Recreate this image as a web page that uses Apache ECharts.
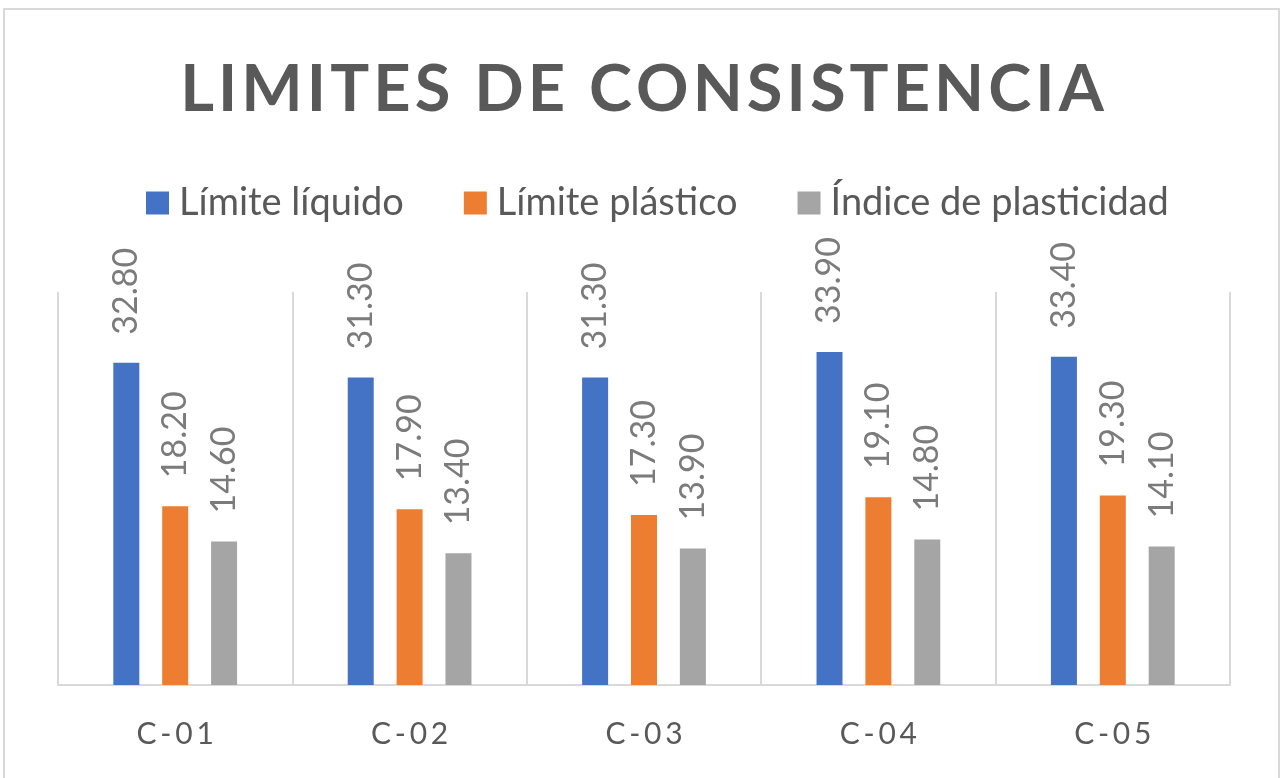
<!DOCTYPE html>
<html lang="es">
<head>
    <meta charset="UTF-8">
    <title>Limites de consistencia</title>
    <style>
        html, body { margin: 0; padding: 0; background: #fff; }
        #main { width: 1284px; height: 778px; }
    </style>
</head>
<body>
<div id="main"></div>
<script src="https://cdn.jsdelivr.net/npm/echarts@6/dist/echarts.min.js"></script>
<script>
// datos
var muestras = ['C-01', 'C-02', 'C-03', 'C-04', 'C-05'];
var limiteLiquido = [32.80, 31.30, 31.30, 33.90, 33.40];
var limitePlastico = [18.20, 17.90, 17.30, 19.10, 19.30];
var indicePlasticidad = [14.60, 13.40, 13.90, 14.80, 14.10];
var nombresSeries = ['Límite líquido', 'Límite plástico', 'Índice de plasticidad'];
var colores = ['#4472c4', '#ed7d31', '#a5a5a5'];

var fuente = 'Lato';

// espaciado entre letras (el canvas no tiene letter-spacing)
function espaciar(txt, sep) {
    return txt.split('').join(sep);
}

// etiqueta girada encima de cada barra
var etiqueta = {
    show: true,
    position: 'top',
    rotate: 90,
    align: 'left',
    verticalAlign: 'middle',
    distance: 28,
    color: '#7b7b7b',
    fontFamily: fuente,
    fontSize: 34,
    formatter: function (p) { return p.value.toFixed(2); }
};

function serie(nombre, datos) {
    return {
        name: nombre,
        type: 'bar',
        data: datos,
        barWidth: 26,
        barGap: '88%',
        label: etiqueta
    };
}

var myChart = echarts.init(document.getElementById('main'));
var option = {
    animation: false,
    color: colores,
    graphic: [{
        type: 'rect',
        shape: { x: 4, y: 9, width: 1275, height: 790 },
        style: { fill: 'none', stroke: '#d9d9d9', lineWidth: 2 },
        silent: true
    }],
    title: {
        text: espaciar('LIMITES DE CONSISTENCIA', '\u200A'),
        left: 'center',
        top: 53,
        textStyle: {
            color: '#595959',
            fontFamily: fuente,
            fontWeight: 'bold',
            fontSize: 65
        }
    },
    legend: {
        data: nombresSeries,
        top: 179,
        left: 141,
        itemWidth: 23,
        itemHeight: 23,
        itemGap: 60,
        icon: 'rect',
        textStyle: {
            color: '#595959',
            fontFamily: fuente,
            fontSize: 38,
            padding: [0, 0, 0, 5]
        }
    },
    grid: {
        left: 58,
        right: 54,
        top: 292,
        bottom: 93
    },
    xAxis: {
        type: 'category',
        data: muestras,
        axisTick: { show: false },
        axisLine: { lineStyle: { color: '#d9d9d9', width: 2 } },
        splitLine: { show: true, lineStyle: { color: '#d9d9d9', width: 2 } },
        axisLabel: {
            color: '#595959',
            fontFamily: fuente,
            fontSize: 30,
            margin: 34,
            formatter: function (v) { return espaciar(v, '\u2009'); }
        }
    },
    yAxis: {
        type: 'value',
        min: 0,
        max: 40,
        show: false,
        splitLine: { show: false }
    },
    series: [
        serie(nombresSeries[0], limiteLiquido),
        serie(nombresSeries[1], limitePlastico),
        serie(nombresSeries[2], indicePlasticidad)
    ]
};
myChart.setOption(option);
</script>
</body>
</html>
